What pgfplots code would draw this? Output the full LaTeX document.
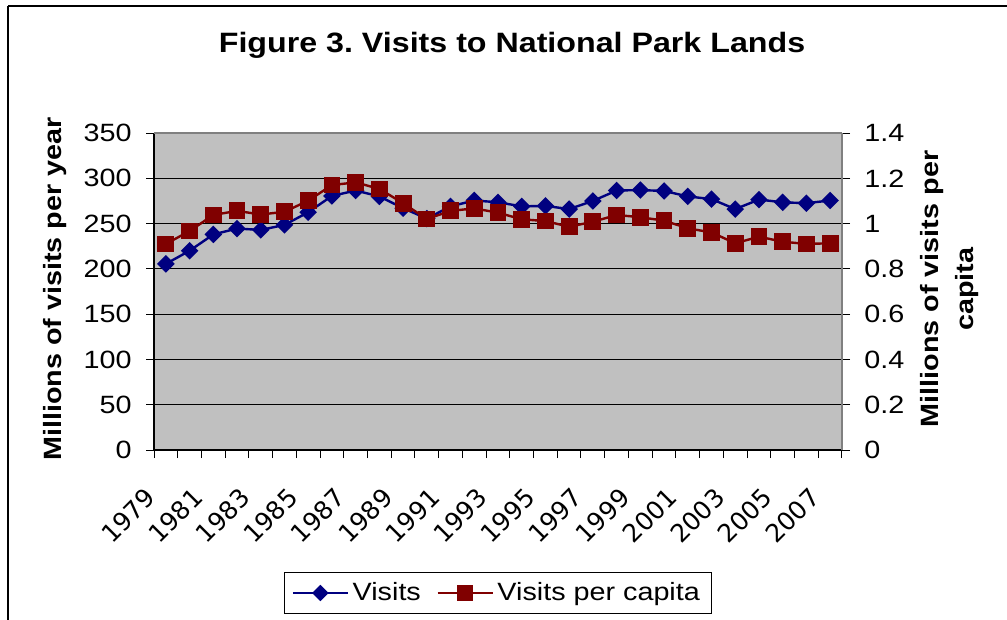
\documentclass[border=0pt]{standalone}
\usepackage{pgfplots}
\usepackage{pgfplotstable}
\pgfplotsset{compat=1.18}
\usepackage{fontspec}
\setmainfont[FakeStretch=1.15]{Liberation Sans}
\newfontfamily\yearfont{DejaVu Sans}
\frenchspacing

\definecolor{plotgray}{RGB}{192,192,192}
\definecolor{bordergray}{RGB}{128,128,128}
\definecolor{visitsblue}{RGB}{0,0,128}
\definecolor{capitared}{RGB}{128,0,0}

% Recreation visits, millions per year
\pgfplotstableread{
year visits
1979 205.5
1980 220
1981 238
1982 244.5
1983 243
1984 248.5
1985 262.5
1986 280.5
1987 286.5
1988 280
1989 267
1990 255.5
1991 269
1992 275.5
1993 273.5
1994 269
1995 269.5
1996 266
1997 275
1998 286.5
1999 287
2000 286
2001 280
2002 277
2003 266
2004 276.5
2005 273.5
2006 272.5
2007 275.5
}\visitstable

% Visits per capita
\pgfplotstableread{
year percapita
1979 0.910
1980 0.967
1981 1.038
1982 1.056
1983 1.040
1984 1.052
1985 1.101
1986 1.170
1987 1.182
1988 1.153
1989 1.090
1990 1.020
1991 1.056
1992 1.067
1993 1.048
1994 1.019
1995 1.011
1996 0.986
1997 1.008
1998 1.038
1999 1.028
2000 1.013
2001 0.979
2002 0.961
2003 0.913
2004 0.942
2005 0.920
2006 0.910
2007 0.913
}\capitatable

\newcommand{\ticksize}{\fontsize{12.5}{15}\selectfont}

\pgfplotsset{
  twinaxis/.style={
    at={(77pt,-225pt)}, anchor=south west,
    scale only axis, width=344pt, height=158.5pt,
    xmin=1978.5, xmax=2007.5,
    tick align=outside,
    every tick/.style={black, line width=0.5pt},
    /pgf/number format/assume math mode=true,
    ticklabel style={font=\ticksize, inner sep=0pt},
    clip=false,
  },
}

\begin{document}
\begin{tikzpicture}
\begin{scope}[x=0.5pt,y=-0.5pt]
  \useasboundingbox (0,0) rectangle (1007,620);
  \draw[line width=0.6pt] (8,6) -- (1040,6);
  \draw[line width=0.6pt] (8,6) -- (8,650);
  \node[font=\fontsize{14}{17}\selectfont\bfseries] at (512,45)
    {Figure 3. Visits to National Park Lands};
  \node[rotate=90, font=\fontsize{12.5}{15}\selectfont\bfseries] at (55,289)
    {Millions of visits per year};
  \node[rotate=90, align=center, font=\fontsize{12.5}{17.5}\selectfont\bfseries] at (950,289)
    {Millions of visits per\\capita};
\end{scope}

% left axis: total visits
\begin{axis}[
  twinaxis,
  axis background/.style={fill=plotgray},
  axis x line*=bottom, axis y line*=left,
  axis line style={black, line width=0.6pt},
  ymin=0, ymax=350, ytick={0,50,...,350},
  ymajorgrids, grid style={black, line width=0.5pt},
  xtick={1979,1981,...,2007},
  xticklabels={1979,1981,1983,1985,1987,1989,1991,1993,1995,1997,1999,2001,2003,2005,2007},
  major x tick style={draw=none},
  minor xtick={1978.5,1979.5,...,2007.5},
  minor tick length=4pt,
  major tick length=4pt,
  xticklabel style={font=\ticksize\yearfont, xshift=-7.5pt, yshift=2.5pt, rotate=45, anchor=east},
  xticklabel shift=20pt,
  yticklabel shift=7pt,
]
\addplot[visitsblue, line width=1.2pt, mark=square*, mark size=2.5pt,
  mark options={rotate=45, fill=visitsblue}]
  table[x=year, y=visits] {\visitstable};
\end{axis}

% right axis: visits per capita
\begin{axis}[
  twinaxis,
  axis x line*=top, axis y line*=right,
  axis line style={bordergray, line width=1pt},
  xtick=\empty,
  ymin=0, ymax=1.4, ytick={0,0.2,0.4,0.6,0.8,1,1.2,1.4},
  yticklabels={0,0.2,0.4,0.6,0.8,1,1.2,1.4},
  major tick length=4pt,
  yticklabel style={anchor=west},
  yticklabel shift=7pt,
  legend columns=2,
  legend style={at={(0.5,-0.451)}, anchor=center, draw=black, line width=0.5pt,
    fill=white, font=\ticksize, inner xsep=4pt, inner ysep=3pt,
    /tikz/every even column/.append style={column sep=6pt}},
  legend image code/.code={\draw[#1, line width=0.8pt, mark repeat=2, mark phase=2]
    plot coordinates {(0pt,0pt) (13.75pt,0pt) (27.5pt,0pt)};},
]
\addlegendimage{visitsblue, mark=square*, mark size=2.5pt, mark options={rotate=45, fill=visitsblue}}
\addlegendentry{Visits}
\addplot[capitared, line width=1.2pt, mark=square*, mark size=3.6pt,
  mark options={fill=capitared}]
  table[x=year, y=percapita] {\capitatable};
\addlegendentry{Visits per capita}
\end{axis}
\end{tikzpicture}
\end{document}
